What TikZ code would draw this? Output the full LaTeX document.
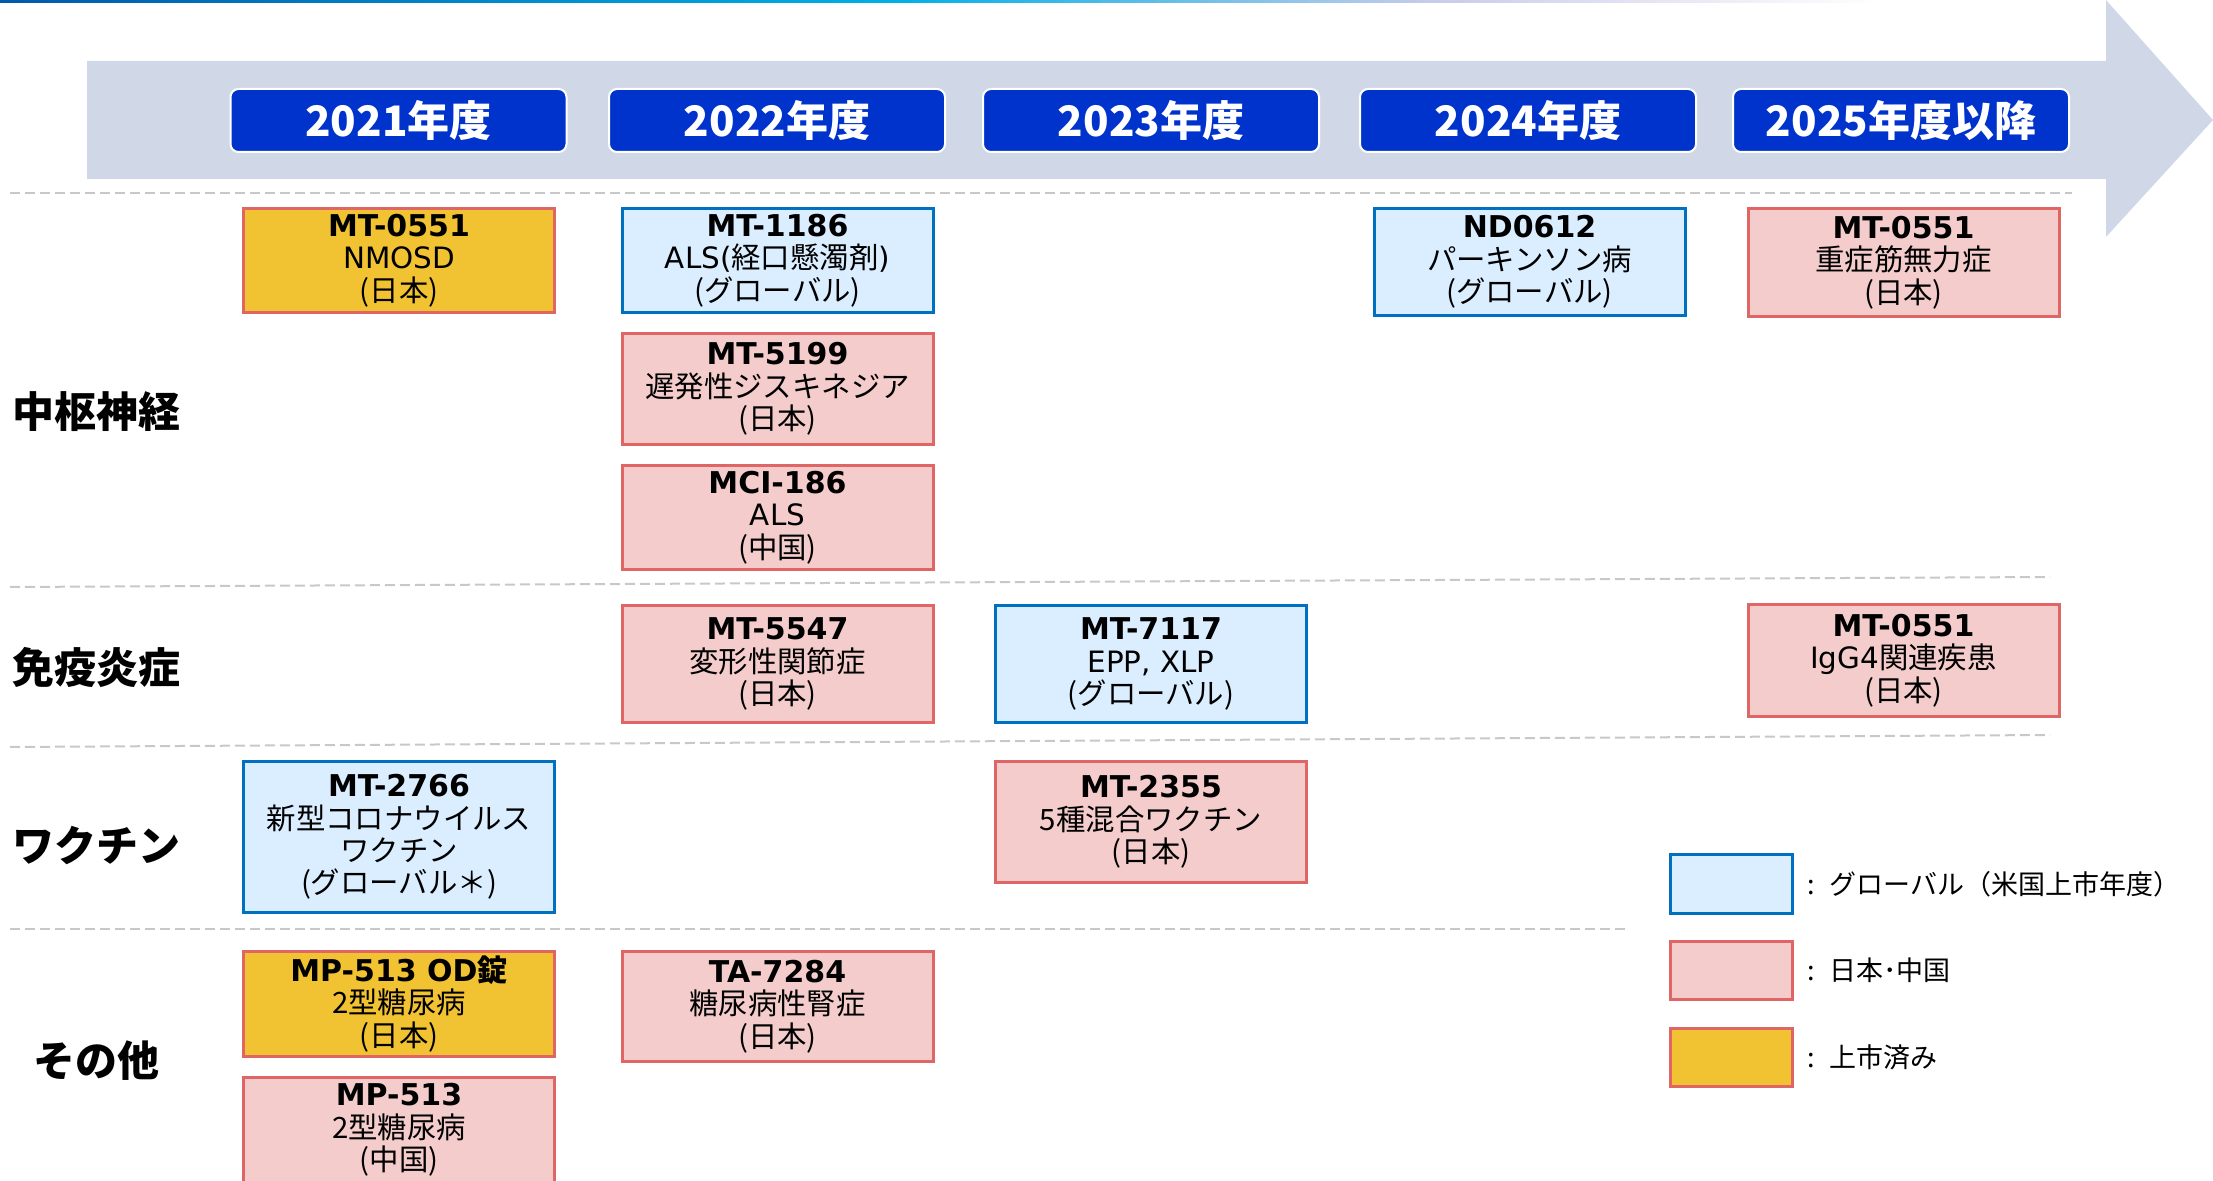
\documentclass[tikz,border=0pt]{standalone}
\usepackage{fontspec}
\setmainfont{Noto Sans CJK JP}
\newfontfamily\idfont{DejaVu Sans}
\usetikzlibrary{positioning}

\definecolor{hdrblue}{RGB}{0,51,204}
\definecolor{arrowgray}{RGB}{208,216,232}
\definecolor{sepgray}{RGB}{200,200,200}
\definecolor{globalfill}{RGB}{218,238,255}
\definecolor{globaledge}{RGB}{0,112,192}
\definecolor{japanfill}{RGB}{244,204,204}
\definecolor{japanedge}{RGB}{224,102,102}
\definecolor{launchfill}{RGB}{241,194,50}
\definecolor{topblue}{RGB}{0,90,170}
\definecolor{topcyan}{RGB}{0,176,230}
\definecolor{toplav}{RGB}{205,205,235}

\newcommand{\drug}[1]{{\idfont\bfseries\fontsize{15pt}{16pt}\selectfont #1}}
\newcommand{\lat}[1]{{\idfont #1}}

\tikzset{
  cand/.style={line width=1.5pt, minimum width=155.5pt, inner sep=0pt, align=center,
    font=\fontsize{14.7pt}{16.2pt}\selectfont},
  global/.style={cand, draw=globaledge, fill=globalfill},
  japan/.style={cand, draw=japanedge, fill=japanfill},
  launched/.style={cand, draw=japanedge, fill=launchfill},
  yearbox/.style={draw=white, line width=1pt, fill=hdrblue, rounded corners=4pt,
    minimum width=168pt, minimum height=31.5pt, text=white,
    font=\fontsize{21pt}{24pt}\selectfont\bfseries},
  catlabel/.style={font=\fontsize{21pt}{24pt}\selectfont\bfseries},
  sepline/.style={draw=sepgray, line width=1pt, dash pattern=on 5pt off 2.5pt},
  legtext/.style={inner sep=0pt, font=\fontsize{13.5pt}{15pt}\selectfont},
}

\begin{document}
\begin{tikzpicture}[x=0.5pt, y=-0.5pt]
\useasboundingbox (0,0) rectangle (2213,1181);

% top rule
\shade[left color=topblue, right color=topcyan] (0,0) rectangle (900,3);
\shade[left color=topcyan, right color=toplav] (900,0) rectangle (1450,3);
\shade[left color=toplav, right color=white] (1450,0) rectangle (1880,3);

% timeline arrow
\fill[arrowgray] (87,61) -- (2106,61) -- (2106,0) -- (2213,120) -- (2106,237)
  -- (2106,179) -- (87,179) -- cycle;

\node[yearbox] (y2021) at (398.5,120.5) {2021年度};
\node[yearbox] (y2022) at (777,120.5) {2022年度};
\node[yearbox] (y2023) at (1151,120.5) {2023年度};
\node[yearbox] (y2024) at (1528,120.5) {2024年度};
\node[yearbox] (y2025) at (1901,120.5) {2025年度以降};

% row separators
\draw[sepline] (10,193) -- (2072,193);
\draw[sepline] (10,587) -- (2050,577);
\draw[sepline] (10,747) -- (2050,735);
\draw[sepline] (10,929) -- (1627,929);

% areas
\node[catlabel] (cns) at (96,412) {中枢神経};
\node[catlabel] (immu) at (96,667) {免疫炎症};
\node[catlabel] (vacc) at (96,845) {ワクチン};
\node[catlabel] (other) at (96,1061) {その他};

% candidates
\node[launched, minimum height=52pt] (nmosd) at (399,260.5)
  {\drug{MT-0551}\\\lat{NMOSD}\\(日本)};
\node[global, minimum height=52pt] (als1186) at (777.5,260.5)
  {\drug{MT-1186}\\\lat{ALS(}経口懸濁剤\lat{)}\\(グローバル)};
\node[japan, minimum height=55.5pt] (td5199) at (777.5,389)
  {\drug{MT-5199}\\遅発性ジスキネジア\\(日本)};
\node[japan, minimum height=52pt] (als186) at (777.5,517.5)
  {\drug{MCI-186}\\\lat{ALS}\\(中国)};
\node[global, minimum height=53.5pt] (nd0612) at (1529.5,262)
  {\drug{ND0612}\\パーキンソン病\\(グローバル)};
\node[japan, minimum height=54pt] (mg0551) at (1903.5,262.5)
  {\drug{MT-0551}\\重症筋無力症\\(日本)};

\node[japan, minimum height=58.5pt] (oa5547) at (777.5,664)
  {\drug{MT-5547}\\変形性関節症\\(日本)};
\node[global, minimum height=58.5pt] (epp7117) at (1151,664)
  {\drug{MT-7117}\\\lat{EPP, XLP}\\(グローバル)};
\node[japan, minimum height=56pt] (igg0551) at (1903.5,660.5)
  {\drug{MT-0551}\\\lat{IgG4}関連疾患\\(日本)};

\node[global, minimum height=75.5pt] (cov2766) at (399,837)
  {\drug{MT-2766}\\新型コロナウイルス\\ワクチン\\(グローバル＊)};
\node[japan, minimum height=60.5pt] (vac2355) at (1151,822)
  {\drug{MT-2355}\\5種混合ワクチン\\(日本)};

\node[launched, minimum height=52.5pt] (od513) at (399,1004)
  {\drug{MP-513 OD}{\bfseries\fontsize{15pt}{16pt}\selectfont 錠}\\2型糖尿病\\(日本)};
\node[japan, minimum height=55pt] (dkd7284) at (777.5,1006.5)
  {\drug{TA-7284}\\糖尿病性腎症\\(日本)};
\node[japan, minimum height=53pt] (cn513) at (399,1130)
  {\drug{MP-513}\\2型糖尿病\\(中国)};

% legend
\node[global, minimum width=61pt, minimum height=29pt] (legGlobal) at (1731,884) {};
\node[japan, minimum width=61pt, minimum height=29pt] (legJapan) at (1731,970) {};
\node[launched, minimum width=61pt, minimum height=29pt] (legDone) at (1731,1057) {};
\node[legtext, right=7pt of legGlobal] (txtGlobal) {:\hspace{7pt}グローバル（米国上市年度）};
\node[legtext, right=7pt of legJapan] (txtJapan) {:\hspace{7pt}日本･中国};
\node[legtext, right=7pt of legDone] (txtDone) {:\hspace{7pt}上市済み};
\end{tikzpicture}
\end{document}
